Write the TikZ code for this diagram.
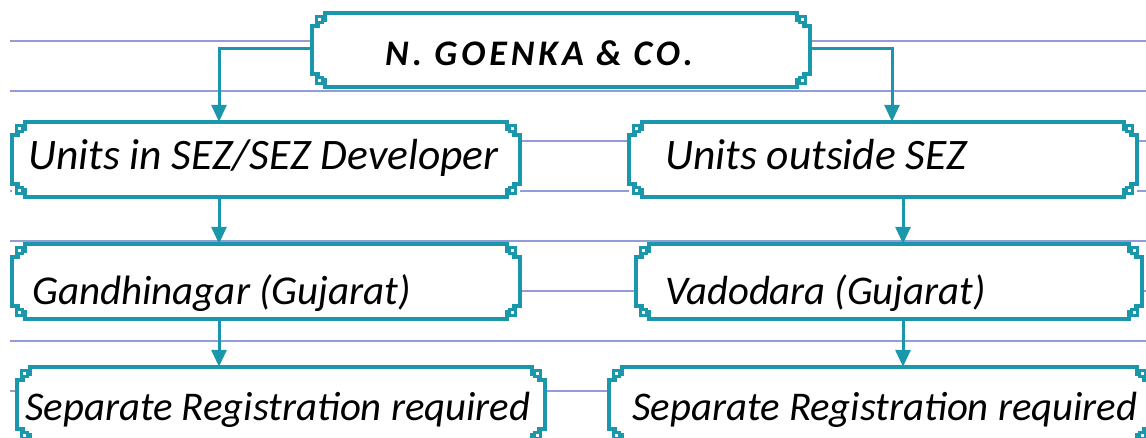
\documentclass[tikz,border=0pt]{standalone}
\usepackage{fontspec}
\setmainfont{Carlito}
\newfontfamily\ttlfont[LetterSpace=11]{Carlito}
\usetikzlibrary{arrows.meta,calc}
\definecolor{tealk}{HTML}{1A97AB}
\definecolor{ruleblue}{HTML}{929CD6}
\tikzset{
  kbox/.style={rectangle, fill=white, draw=none, inner sep=0pt},
  kframe/.style={draw=tealk, line width=3.6pt, line join=miter, line cap=rect},
  ksq/.style={draw=tealk, line width=2.6pt, fill=white},
  karr/.style={draw=tealk, line width=3pt, -{Triangle[length=17pt,width=15pt]}},
  ktxt/.style={anchor=base west, inner sep=0pt, font=\fontsize{#1}{46}\selectfont\itshape},
  kttl/.style={anchor=base west, inner sep=0pt, font=\ttlfont\fontsize{36}{40}\selectfont\bfseries\itshape},
  krule/.style={draw=ruleblue, line width=1.5pt}
}
\newcommand{\kcorner}[3]{%
  \begin{scope}[shift={(#1)}, xscale=#2, yscale=#3]
    \draw[kframe] (13,0) -- (13,7) -- (11,7);
    \draw[kframe] (6,10) -- (6,13) -- (0,13);
    \draw[ksq] (4.5,3.5) rectangle (10.5,9.5);
  \end{scope}}
\newcommand{\kborder}[1]{%
  \draw[kframe] ([xshift=13pt]#1.north west) -- ([xshift=-13pt]#1.north east);
  \draw[kframe] ([xshift=13pt]#1.south west) -- ([xshift=-13pt]#1.south east);
  \draw[kframe] ([yshift=-13pt]#1.north west) -- ([yshift=13pt]#1.south west);
  \draw[kframe] ([yshift=-13pt]#1.north east) -- ([yshift=13pt]#1.south east);
  \kcorner{#1.north west}{1}{1}
  \kcorner{#1.north east}{-1}{1}
  \kcorner{#1.south west}{1}{-1}
  \kcorner{#1.south east}{-1}{-1}}
\begin{document}
\begin{tikzpicture}[x=1pt,y=-1pt]
\useasboundingbox (0,0) rectangle (1146,438);
\clip (0,0) rectangle (1146,438);
\fill[white] (0,0) rectangle (1146,438);
% ruled background
\foreach \yy in {41,91,...,391} \draw[krule] (10,\yy) -- (1146,\yy);
% boxes
\node[kbox, minimum width=498pt, minimum height=74pt] (b1) at (561,50) {};
\node[kbox, minimum width=508pt, minimum height=75pt] (b2) at (266,159.5) {};
\node[kbox, minimum width=508pt, minimum height=75pt] (b3) at (883,159.5) {};
\node[kbox, minimum width=508pt, minimum height=75pt] (b4) at (266,281.5) {};
\node[kbox, minimum width=506pt, minimum height=75pt] (b5) at (889,281.5) {};
\node[kbox, minimum width=528pt, minimum height=75pt] (b6) at (281,404.5) {};
\node[kbox, minimum width=541pt, minimum height=75pt] (b7) at (879.5,404.5) {};
\foreach \b in {b1,b2,b3,b4,b5,b6,b7} {\kborder{\b}}
% texts
\node[kttl] (t1) at (385,66) {N. GOENKA \& CO.};
\node[ktxt=43.5] (t2) at (28,170) {Units in SEZ/SEZ Developer};
\node[ktxt=43.5] (t3) at (665,170) {Units outside SEZ};
\node[ktxt=41] (t4) at (32,305) {Gandhinagar (Gujarat)};
\node[ktxt=40.7] (t5) at (665,305) {Vadodara (Gujarat)};
\node[ktxt=40.8] (t6) at (25,420) {Separate Registration required};
\node[ktxt=40.8] (t7) at (632,420) {Separate Registration required};
% connectors
\coordinate (cL) at (219,0);
\coordinate (cR1) at (892,0);
\coordinate (cR) at (903,0);
\draw[karr] ([yshift=1pt]b1.west) -| (b2.north -| cL);
\draw[karr] ([yshift=1pt]b1.east) -| (b3.north -| cR1);
\draw[karr] (b2.south -| cL) -- (b4.north -| cL);
\draw[karr] (b4.south -| cL) -- (b6.north -| cL);
\draw[karr] (b3.south -| cR) -- (b5.north -| cR);
\draw[karr] (b5.south -| cR) -- (b7.north -| cR);
\end{tikzpicture}
\end{document}
